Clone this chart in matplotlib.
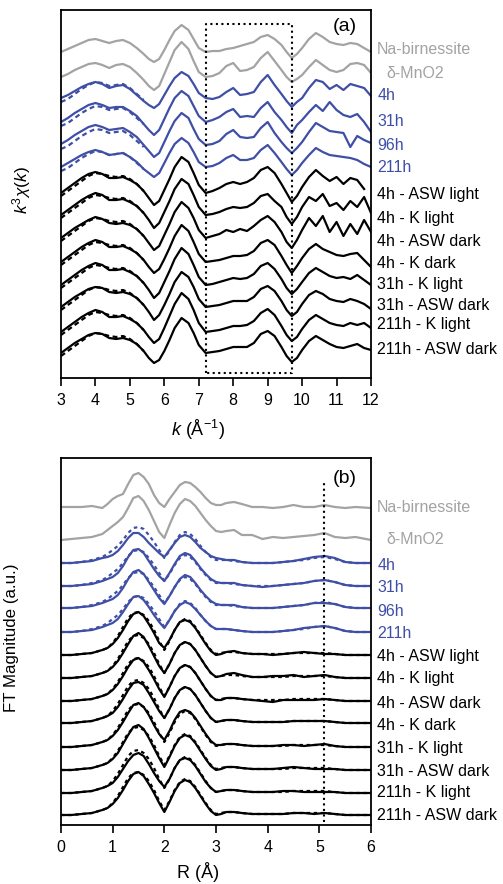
import numpy as np
import matplotlib
matplotlib.use("Agg")
import matplotlib.pyplot as plt

plt.rcParams['font.family'] = ['Liberation Sans', 'DejaVu Sans']
plt.rcParams['mathtext.fontset'] = 'custom'
plt.rcParams['mathtext.rm'] = 'Liberation Sans'
plt.rcParams['mathtext.it'] = 'Liberation Sans:italic'

nan = float('nan')

# ---------------- data: panel (a) k^3 chi(k) ----------------
k = [3.0, 3.2, 3.4, 3.6, 3.8, 4.0, 4.2, 4.4, 4.6, 4.8, 5.0, 5.2, 5.4, 5.55, 5.7, 5.85, 6.0,
     6.15, 6.3, 6.5, 6.7, 6.85, 7.0, 7.2, 7.4, 7.6, 7.8, 8.0, 8.2, 8.4, 8.6, 8.8, 9.0, 9.2,
     9.4, 9.55, 9.7, 9.85, 10.0, 10.2, 10.4, 10.6, 10.8, 11.0, 11.2, 11.4, 11.6, 11.8, 12.0]

chi_na_birnessite = [0, 3, 6, 9, 12, 13, 11, 9, 11, 12, 9, 4, -2, -7, -10, -7, 2, 12, 21, 27, 22, 13, 4, 0,
                     1, 1, 3, 4, 6, 8, 10, 15, 17, 13, 7, 0, -6, -2, 4, 13, 19, 15, 10, 8, 7, 9, 8, 4, 0]
chi_d_mno2 = [0, 3, 7, 10, 13, 14, 12, 9, 12, 13, 10, 4, -3, -9, -13, -9, 3, 15, 27, 35, 28, 16, 5, 0,
              1, 4, 11, 14, 6, 7, 10, 19, 25, 16, 7, 0, -5, -2, 2, 10, 17, 12, 7, 5, 7, 13, 14, 12, 4]
chi_4h = [0, 3, 7, 11, 14, 16, 14, 10, 12, 13, 9, 3, -3, -7, -10, -6, 3, 12, 20, 26, 22, 14, 5, 0,
          -1, 1, 6, 10, 3, 4, 6, 16, 23, 13, 4, -3, -9, -4, 0, 10, 18, 16, 9, 13, 8, 14, 12, 10, 2]
chi_31h = [0, 4, 9, 13, 17, 19, 17, 14, 15, 15, 11, 6, -2, -8, -13, -8, 3, 14, 24, 31, 26, 16, 6, 0,
           2, 5, 10, 13, 5, 6, 5, 14, 20, 10, 2, -5, -11, -3, 2, 10, 17, 11, 20, 12, 7, 5, 8, 0, -10]
chi_96h = [1, 5, 10, 14, 18, 20, 18, 15, 16, 17, 13, 8, 0, -6, -12, -8, 3, 14, 24, 32, 27, 16, 6, 0,
           1, 4, 11, 15, 8, 7, 8, 17, 23, 12, 3, -3, -8, -3, 3, 13, 22, 18, 14, 13, 12, -2, 9, 5, 2]
chi_211h = [0, 4, 8, 12, 15, 17, 15, 12, 13, 14, 10, 5, -2, -6, -10, -6, 4, 14, 23, 29, 24, 15, 5, 0,
            1, 4, 9, 12, 7, 7, 9, 17, 22, 14, 5, -2, -8, -3, 4, 12, 19, 15, 12, 11, 10, 9, 7, 3, 0]

chi_4h_asw_light = [0, 5, 10, 15, 19, 21, 19, 15, 15, 16, 13, 9, 2, -5, -12, -8, 3, 14, 26, 36, 31, 20, 8, 0,
                    2, 5, 9, 11, 9, 11, 15, 23, 26, 20, 9, 0, -9, -3, 6, 16, 23, 17, 12, 16, 9, 15, 13, 4, nan]
chi_4h_k_light = [0, 5, 10, 15, 19, 22, 20, 15, 15, 16, 13, 9, 2, -5, -13, -8, 3, 14, 26, 36, 31, 20, 8, 0,
                  1, 3, 6, 8, 7, 8, 12, 19, 21, 14, 8, -2, -9, -2, 8, 18, 14, 21, 9, 12, 5, 14, 8, 18, 2]
chi_4h_asw_dark = [0, 5, 10, 14, 18, 21, 19, 15, 14, 15, 13, 9, 2, -5, -12, -8, 3, 14, 26, 36, 30, 20, 8, 0,
                   2, 4, 8, 6, 9, 7, 12, 18, 22, 16, 6, -4, -10, -2, 8, 20, 12, 22, 6, 16, 2, 14, 4, 18, 6]
chi_4h_k_dark = [0, 5, 10, 15, 19, 22, 20, 15, 15, 16, 13, 9, 2, -5, -11, -7, 3, 14, 26, 37, 31, 20, 8, 0,
                 1, 2, 4, 6, 6, 7, 11, 19, 22, 17, 6, -3, -11, -4, 4, 13, 18, 13, 10, 7, 6, 8, 9, 2, -5]
chi_31h_k_light = [0, 5, 10, 15, 19, 22, 20, 15, 15, 16, 13, 9, 2, -5, -13, -8, 3, 14, 26, 37, 31, 20, 8, 0,
                   1, 3, 5, 7, 6, 7, 11, 19, 22, 16, 6, -3, -9, -4, 3, 12, 17, 13, 9, 7, 8, 6, 10, 5, 0]
chi_31h_asw_dark = [0, 5, 10, 14, 18, 20, 19, 15, 14, 15, 13, 9, 2, -5, -13, -8, 2, 13, 25, 35, 30, 20, 8, 0,
                    1, 2, 4, 6, 6, 6, 10, 18, 21, 16, 6, -3, -9, -5, 3, 12, 16, 13, 8, 6, 5, 8, 6, 3, -2]
chi_211h_k_light = [0, 5, 10, 15, 19, 22, 20, 15, 15, 16, 13, 9, 2, -5, -11, -7, 4, 16, 28, 39, 33, 22, 9, 0,
                    1, 2, 4, 6, 6, 7, 11, 19, 23, 17, 6, -3, -9, -5, 3, 12, 17, 13, 9, 7, 6, 9, 7, 9, 4]
chi_211h_asw_dark = [0, 5, 10, 14, 18, 20, 19, 15, 14, 15, 13, 9, 2, -5, -10, -7, 2, 13, 25, 35, 30, 20, 8, 0,
                     1, 2, 4, 6, 6, 6, 10, 19, 22, 17, 6, -3, -9, -5, 3, 12, 17, 13, 9, 6, 5, 7, 9, 5, 3]

# fits (dashed): only where they separate from the data (low k); elsewhere they lie under the data
k_fit = [3.0, 3.2, 3.4, 3.6, 3.8, 4.0, 4.2, 4.4, 4.6, 4.8, 5.0, 5.2, 5.4]
fit_blue = [-4, -1, 4, 9, 13, 16, 15, 12, 13, 14, 10, 4, -2]
fit_black = [-3, 2, 7, 12, 17, 20, 19, 17, 16, 17, 14, 9, 2]

# ---------------- data: panel (b) FT magnitude ----------------
R = [0.0, 0.2, 0.4, 0.6, 0.8, 0.9, 1.0, 1.1, 1.2, 1.3, 1.4, 1.5, 1.6, 1.7, 1.8, 1.9, 2.0, 2.1, 2.2,
     2.3, 2.4, 2.5, 2.6, 2.7, 2.8, 2.9, 3.0, 3.1, 3.2, 3.35, 3.5, 3.7, 3.9, 4.1, 4.3, 4.5, 4.7, 4.9,
     5.1, 5.3, 5.5, 5.7, 6.0]

ft_na_birnessite = [1, 1, 1, 2, 0, 4, 9, 12, 14, 24, 33, 35, 31, 24, 13, 5, 1, 9, 16, 23, 26, 25, 21, 16,
                    10, 5, 3, 3, 5, 6, 4, 1, 1, 0, 1, 3, 1, 1, 3, 1, 0, 1, 0]
ft_d_mno2 = [0, 1, 2, 3, 6, 10, 14, 18, 23, 32, 42, 44, 39, 30, 19, 8, 2, 15, 27, 36, 41, 39, 34, 27,
             20, 14, 9, 8, 9, 10, 5, 5, 1, 3, 2, 3, 4, 5, 7, 3, 2, 3, 0]
ft_4h = [0, 0, 1, 2, 5, 6, 8, 12, 18, 25, 30, 30, 26, 20, 15, 10, 6, 13, 20, 26, 28, 26, 21, 15,
         11, 7, 5, 4, 3, 3, 1, 0, 0, 0, 1, 2, 4, 6, 7, 5, 1, 0, 0]
ft_31h = [0, 0, 1, 2, 5, 7, 9, 13, 20, 29, 36, 37, 33, 25, 17, 10, 5, 13, 22, 30, 33, 31, 25, 18,
          12, 7, 4, 3, 3, 3, 1, 0, -1, 0, 1, 2, 3, 5, 6, 4, 1, 0, 0]
ft_96h = [0, 0, 1, 2, 5, 7, 9, 13, 20, 29, 36, 38, 34, 26, 18, 10, 4, 12, 21, 29, 33, 31, 25, 18,
          12, 7, 4, 3, 3, 3, 1, 0, 0, 0, 1, 2, 3, 5, 5, 4, 1, 0, 0]
ft_211h = [0, 0, 1, 2, 5, 7, 9, 13, 20, 28, 35, 36, 32, 25, 17, 10, 4, 12, 21, 27, 30, 28, 23, 17,
           11, 6, 3, 3, 3, 2, 1, 0, 0, 0, 1, 2, 4, 5, 6, 4, 1, 0, 0]
fit_ft_blue = [0, 0, 1, 3, 6, 9, 13, 17, 23, 30, 35, 36, 34, 28, 21, 13, 5, 12, 21, 28, 31, 29, 24, 17,
               11, 6, 3, 3, 3, 2, 1, 0, 0, 0, 1, 2, 3, 5, 6, 4, 1, 0, 0]

ft_4h_asw_light = [0, 0, 1, 2, 5, 7, 11, 17, 25, 34, 41, 43, 39, 31, 22, 12, 7, 15, 25, 33, 35, 33, 27, 19,
                   11, 4, 0, 1, 3, 4, 2, 1, 1, 0, 1, 2, 3, 2, 1, 1, 0, 0, 0]
ft_4h_k_light = [0, 0, 1, 2, 5, 7, 11, 17, 25, 34, 42, 45, 41, 32, 22, 12, 5, 14, 25, 33, 36, 34, 28, 20,
                 12, 5, 1, 2, 4, 5, 3, 1, 1, 2, 2, 3, 1, 2, 3, 1, 0, 0, 0]
ft_4h_asw_dark = [0, 0, 1, 2, 5, 7, 11, 17, 25, 34, 41, 43, 39, 31, 22, 12, 4, 14, 25, 33, 36, 34, 28, 20,
                  12, 5, 1, 1, 3, 3, 2, 1, 0, -1, 1, 1, 1, 1, 2, 1, 0, 0, 0]
ft_4h_k_dark = [0, 0, 1, 2, 5, 7, 10, 16, 24, 33, 40, 41, 38, 30, 21, 12, 5, 14, 25, 33, 36, 34, 28, 20,
                12, 5, 1, 2, 3, 3, 2, 1, 1, 1, 1, 2, 2, 2, 2, 1, 0, 0, 0]
ft_31h_k_light = [0, 0, 1, 2, 5, 7, 11, 17, 25, 34, 42, 44, 40, 32, 22, 13, 7, 16, 27, 35, 37, 35, 29, 21,
                  13, 6, 2, 2, 3, 3, 2, 1, 1, 1, 2, 2, 1, 2, 3, 1, 0, 0, 0]
ft_31h_asw_dark = [0, 0, 1, 2, 5, 7, 11, 17, 26, 35, 43, 45, 41, 32, 22, 12, 3, 13, 24, 32, 35, 33, 27, 19,
                   11, 4, 0, 1, 3, 3, 2, 1, 1, 1, 2, 3, 2, 1, 1, 1, 0, 0, 0]
ft_211h_k_light = [0, 0, 1, 2, 5, 7, 10, 16, 24, 32, 38, 40, 37, 29, 20, 12, 6, 14, 25, 33, 35, 33, 27, 19,
                   11, 5, 1, 2, 3, 3, 2, 1, 1, 1, 2, 2, 1, 1, 1, 1, 0, 0, 0]
ft_211h_asw_dark = [0, 0, 1, 2, 5, 7, 11, 17, 25, 34, 41, 43, 39, 31, 22, 12, 3, 13, 24, 32, 35, 33, 27, 19,
                    11, 4, 0, 1, 3, 3, 2, 1, 1, 1, 1, 2, 2, 1, 2, 1, 0, 0, 0]
fit_ft_black = [0, 0, 1, 2, 5, 7, 12, 19, 28, 37, 42, 43, 40, 34, 25, 14, 5, 14, 25, 33, 36, 34, 28, 20,
                12, 5, 1, 2, 3, 3, 2, 1, 1, 1, 1, 2, 2, 2, 2, 1, 0, 0, 0]

sample_labels = ['Na-birnessite', 'δ-MnO2', '4h', '31h', '96h', '211h',
                 '4h - ASW light', '4h - K light', '4h - ASW dark', '4h - K dark',
                 '31h - K light', '31h - ASW dark', '211h - K light', '211h - ASW dark']
groups = ['ref', 'ref', 'blue', 'blue', 'blue', 'blue',
          'black', 'black', 'black', 'black', 'black', 'black', 'black', 'black']

chi_series = [chi_na_birnessite, chi_d_mno2, chi_4h, chi_31h, chi_96h, chi_211h,
              chi_4h_asw_light, chi_4h_k_light, chi_4h_asw_dark, chi_4h_k_dark,
              chi_31h_k_light, chi_31h_asw_dark, chi_211h_k_light, chi_211h_asw_dark]
ft_series = [ft_na_birnessite, ft_d_mno2, ft_4h, ft_31h, ft_96h, ft_211h,
             ft_4h_asw_light, ft_4h_k_light, ft_4h_asw_dark, ft_4h_k_dark,
             ft_31h_k_light, ft_31h_asw_dark, ft_211h_k_light, ft_211h_asw_dark]

# ---------------- layout (stack offsets and label heights) ----------------
offset_a = [326, 301, 280, 256, 233, 211, 185, 163, 140, 116, 93, 71, 46, 25]
label_a = [328, 305, 282, 256, 233, 211, 183, 160, 137, 114, 93, 73, 53, 28]
offset_b = [317, 285, 262, 239, 217, 193, 170, 147, 124, 102, 78, 55, 32, 10]
label_b = [318, 286, 260, 237, 214, 191, 168, 146, 122, 99, 77, 53, 32, 9]

colors = {'ref': '#a3a3a3', 'blue': '#3f4fa6', 'black': '#000000'}
fits_a = {'blue': fit_blue, 'black': fit_black}
fits_b = {'blue': fit_ft_blue, 'black': fit_ft_black}

W, H = 503, 884
fig = plt.figure(figsize=(W / 100, H / 100), dpi=100)
ax_a = fig.add_axes([61 / W, 1 - 378 / H, 310 / W, 368 / H])
ax_b = fig.add_axes([61 / W, 1 - 825 / H, 310 / W, 367 / H])

lw = 1.6
for ax in (ax_a, ax_b):
    for s in ax.spines.values():
        s.set_linewidth(1.3)
    ax.set_yticks([])
    ax.tick_params(axis='x', direction='out', length=5.5, width=1.2, pad=5, labelsize=11.5)

karr = np.array(k)
Rarr = np.array(R)
for i, (lab, grp) in enumerate(zip(sample_labels, groups)):
    c = colors[grp]
    y = np.array(chi_series[i], dtype=float) + offset_a[i]
    if grp in fits_a:
        ax_a.plot(k_fit, np.array(fits_a[grp]) + offset_a[i], color=c, lw=lw,
                  ls=(0, (2.2, 1.6)))
    ax_a.plot(karr, y, color=c, lw=lw, solid_joinstyle='round')
    dx = 0.03 if lab == 'δ-MnO2' else 0.0
    ax_a.text(1.02 + dx, label_a[i], lab, color=c, fontsize=11.5,
              transform=ax_a.get_yaxis_transform(), va='center', ha='left')

    yb = np.array(ft_series[i], dtype=float) + offset_b[i]
    if grp in fits_b:
        ax_b.plot(Rarr, np.array(fits_b[grp]) + offset_b[i], color=c, lw=lw,
                  ls=(0, (1.6, 1.6)))
    ax_b.plot(Rarr, yb, color=c, lw=lw, solid_joinstyle='round')
    ax_b.text(1.02 + dx, label_b[i], lab, color=c, fontsize=11.5,
              transform=ax_b.get_yaxis_transform(), va='center', ha='left')

# dotted region in (a) and dotted line in (b)
ax_a.plot([7.2, 7.2, 9.7, 9.7, 7.2], [5, 354, 354, 5, 5], color='black', lw=1.5, ls=':')
ax_b.plot([5.1, 5.1], [3, 343], color='black', lw=1.5, ls=':')

ax_a.set_xlim(3, 12)
ax_a.set_ylim(0, 368)
ax_a.set_xticks(range(3, 13))
ax_b.set_xlim(0, 6)
ax_b.set_ylim(0, 367)
ax_b.set_xticks(range(0, 7))

ax_a.text(0.955, 0.955, '(a)', transform=ax_a.transAxes, fontsize=14, ha='right', va='center')
ax_b.text(0.955, 0.945, '(b)', transform=ax_b.transAxes, fontsize=14, ha='right', va='center')

fig.text(198 / W, 1 - 430 / H, r'$k$ (Å$^{-1}$)', fontsize=13, ha='center', va='center')
fig.text(198 / W, 1 - 872 / H, 'R (Å)', fontsize=13, ha='center', va='center')
fig.text(22 / W, 1 - 190 / H, r'$k^3\chi(k)$', fontsize=12.5, ha='center', va='center', rotation=90)
fig.text(12 / W, 1 - 638 / H, 'FT Magnitude (a.u.)', fontsize=12.2, ha='center', va='center', rotation=90)

fig.savefig('out.png', dpi=100)
